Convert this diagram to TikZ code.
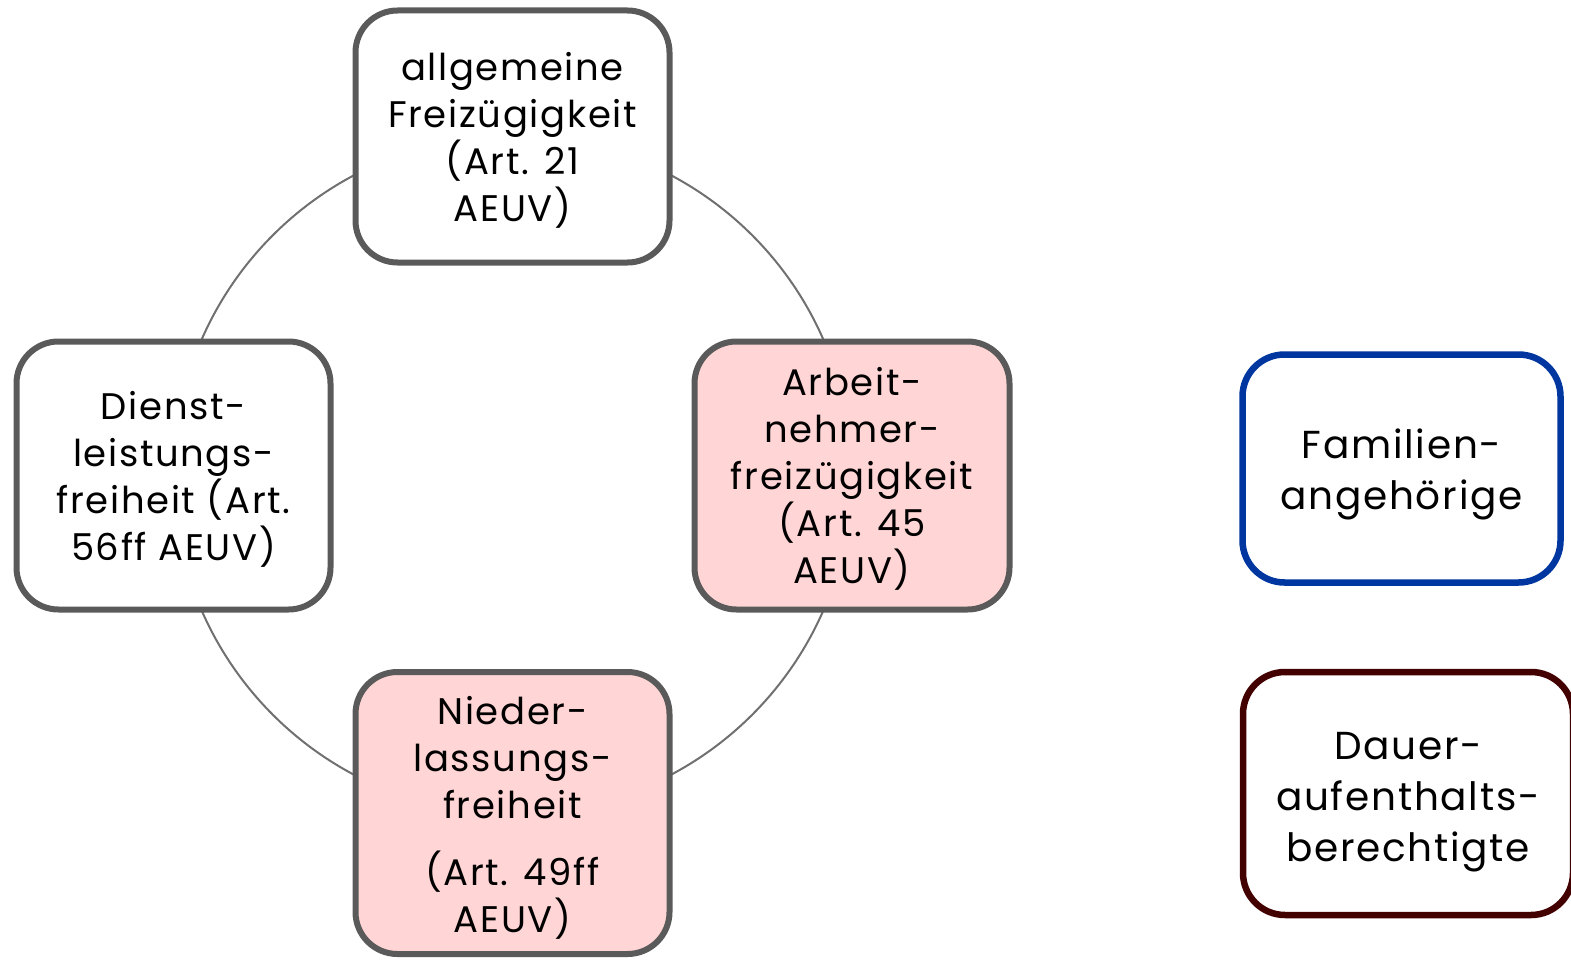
\documentclass[tikz,border=0pt]{standalone}
\usepackage{fontspec}
\setmainfont[LetterSpace=4.5]{Poppins}
\definecolor{boxgray}{HTML}{5A5A5A}
\definecolor{ringgray}{HTML}{707070}
\definecolor{pinkfill}{HTML}{FFD5D5}
\definecolor{famblue}{HTML}{0036A0}
\definecolor{dauerred}{HTML}{420000}
\tikzset{
  freebox/.style={draw=boxgray, line width=6pt, rounded corners=42pt, fill=white,
    minimum width=314pt, inner sep=0pt},
  pinkbox/.style={freebox, fill=pinkfill},
  groupbox/.style={draw, line width=6.5pt, rounded corners=42pt, fill=white, inner sep=0pt},
  freetext/.style={align=center, inner sep=0pt, font=\fontsize{37}{47}\selectfont},
  grouptext/.style={align=center, inner sep=0pt, font=\fontsize{39}{51}\selectfont},
  ring/.style={draw=ringgray, line width=2pt}
}
\begin{document}
\begin{tikzpicture}[x=1pt,y=-1pt]
\useasboundingbox (0,0) rectangle (1571,960);
\coordinate (c) at (512.5,475);
\draw[ring] (c) circle[radius=339pt];
\node[freebox, minimum height=252pt] (allg) at (512.5,136.5) {};
\node[freetext] (allgT) at ([yshift=-3.5pt]allg.center)
  {allgemeine\\Freizügigkeit\\(Art. 21\\AEUV)};
\node[freebox, minimum height=268pt] (dienst) at (173.5,475.5) {};
\node[freetext] (dienstT) at ([yshift=-3.5pt]dienst.center)
  {Dienst-\\leistungs-\\freiheit (Art.\\56ff AEUV)};
\node[pinkbox, minimum height=268pt, minimum width=315pt] (arbeit) at (852,475.5) {};
\node[freetext] (arbeitT) at ([yshift=-3.5pt]arbeit.center)
  {Arbeit-\\nehmer-\\freizügigkeit\\(Art. 45\\AEUV)};
\node[pinkbox, minimum height=282pt] (nieder) at (512.5,813) {};
\node[freetext] (niederT) at ([yshift=-5pt]nieder.center)
  {Nieder-\\lassungs-\\freiheit\\[20pt](Art. 49ff\\AEUV)};
\node[groupbox, draw=famblue, minimum width=318pt, minimum height=228pt] (fam) at (1401.5,468.5) {};
\node[grouptext] (famT) at ([yshift=-6pt]fam.center)
  {Familien-\\angehörige};
\node[groupbox, draw=dauerred, minimum width=330pt, minimum height=243pt] (dauer) at (1408,793.5) {};
\node[grouptext] (dauerT) at ([yshift=-8.5pt]dauer.center)
  {Dauer-\\aufenthalts-\\berechtigte};
\end{tikzpicture}
\end{document}
